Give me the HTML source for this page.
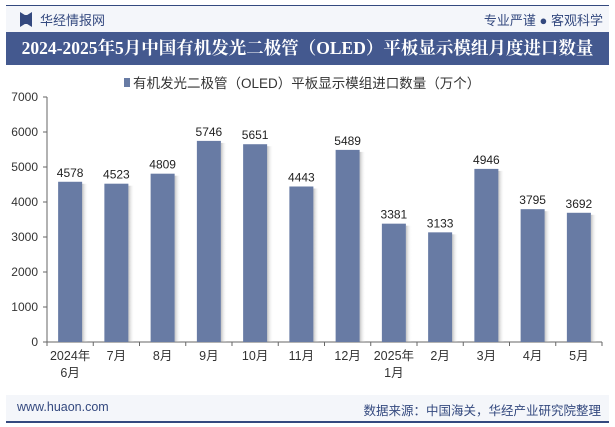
<!DOCTYPE html>
<html><head><meta charset="utf-8"><style>
body{margin:0;width:615px;height:427px;background:#fff;font-family:"Liberation Sans","Noto Sans CJK SC",sans-serif;overflow:hidden;position:relative}
.hdr{position:absolute;left:6px;top:6px;width:603px;height:26px;background:#f4f6fa}
.title{position:absolute;left:6px;top:32px;width:603px;height:33px;background:#44598f;color:#fff;font-weight:bold;font-size:17.5px;line-height:33px;text-align:center;font-family:"Liberation Serif","Noto Serif CJK SC",serif}
.foot{position:absolute;left:6px;top:395px;width:603px;height:26px;background:#f4f6fa}
</style></head><body>
<div style="position:absolute;left:6px;top:5px;width:603px;height:2px;background:#34497f"></div>
<div class="hdr">
 <div style="position:absolute;left:14px;top:6px;width:12px;height:15px;background:#34497f;clip-path:polygon(0 0,40% 20%,60% 20%,100% 0,100% 100%,60% 80%,40% 80%,0 100%)"></div>
 <span style="position:absolute;left:34px;top:4px;font-size:13px;color:#34497f">华经情报网</span>
 <span style="position:absolute;right:6px;top:4px;font-size:13px;color:#34497f">专业严谨 ● 客观科学</span>
</div>
<div class="title">2024-2025年5月中国有机发光二极管（OLED）平板显示模组月度进口数量</div>
<svg width="615" height="427" style="position:absolute;left:0;top:0" id="chart">
 <g>
  <rect x="124" y="78" width="6" height="9" fill="#687ba4"/>
  <text x="133" y="88" font-size="13.5" fill="#333">有机发光二极管（OLED）平板显示模组进口数量（万个）</text>
 </g>
 <g id="plot"></g>
</svg>
<div class="foot">
 <span style="position:absolute;left:11px;top:5px;font-size:12.5px;color:#34497f">www.huaon.com</span>
 <span style="position:absolute;right:8px;top:5px;font-size:12.5px;color:#34497f">数据来源：中国海关，华经产业研究院整理</span>
</div>
<div style="position:absolute;left:6px;top:421px;width:603px;height:2px;background:#34497f"></div>
<script>
const categories=[["2024年","6月"],["7月"],["8月"],["9月"],["10月"],["11月"],["12月"],["2025年","1月"],["2月"],["3月"],["4月"],["5月"]];
const values=[4578,4523,4809,5746,5651,4443,5489,3381,3133,4946,3795,3692];
const yTicks=[0,1000,2000,3000,4000,5000,6000,7000];
const NS="http://www.w3.org/2000/svg";
const g=document.getElementById('plot');
const x0=47,x1=602,yb=342,yt=97,ymax=7000;
const bw=(x1-x0)/categories.length;
const y=v=>yb-(v/ymax)*(yb-yt);
const xc=i=>x0+bw*(i+0.5);
function mk(t,a){const e=document.createElementNS(NS,t);for(const k in a)e.setAttribute(k,a[k]);g.appendChild(e);return e;}
let ax=mk('line',{x1:x0,y1:yt,x2:x0,y2:yb,stroke:'#666'});


let bx=mk('line',{x1:x0,y1:yb,x2:x1,y2:yb,stroke:'#666'});


yTicks.forEach(v=>{
 mk('line',{x1:x0-4,y1:y(v),x2:x0,y2:y(v),stroke:'#666'});
 const t=mk('text',{x:x0-9,y:y(v)+4,'font-size':12,'text-anchor':'end',fill:'#333'});t.textContent=v;
 
 
});
for(let i=0;i<=categories.length;i++)mk('line',{x1:x0+bw*i,y1:yb,x2:x0+bw*i,y2:yb+4,stroke:'#666'});
const defs=document.createElementNS(NS,'defs');defs.innerHTML='<linearGradient id="sh"><stop offset="0" stop-color="#999" stop-opacity="0.6"/><stop offset="1" stop-color="#fff" stop-opacity="0"/></linearGradient>';g.appendChild(defs);
values.forEach((v,i)=>{
 const w=24,x=xc(i)-w/2;
 mk('rect',{x:x+w,y:y(v)+2,width:6,height:yb-y(v)-2,fill:'url(#sh)'});
 const r=mk('rect',{x:x,y:y(v),width:w,height:yb-y(v),fill:'#687ba4'});
 
 
 const t=mk('text',{x:xc(i),y:y(v)-5,'font-size':12,'text-anchor':'middle',fill:'#222'});t.textContent=v;
 
 
 categories[i].forEach((s,j)=>{
  const c=mk('text',{x:xc(i),y:yb+18+j*17,'font-size':12.5,'text-anchor':'middle',fill:'#333'});c.textContent=s;
  
  
 });
});
</script>
</body></html>
